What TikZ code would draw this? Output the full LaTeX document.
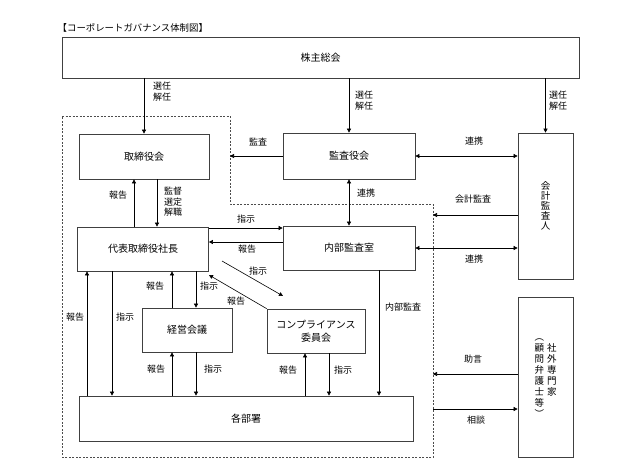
\documentclass[tikz,border=0pt]{standalone}
\usepackage{fontspec}
\setmainfont{Noto Sans CJK JP}
\usetikzlibrary{arrows.meta}

\begin{document}
\begin{tikzpicture}[x=1pt,y=-1pt,
  box/.style={draw=black!75,line width=0.7pt,font=\fontsize{10}{12}\selectfont,align=center,inner sep=0pt},
  lbl/.style={font=\fontsize{9}{11}\selectfont,align=center,inner sep=0pt},
  arr/.style={line width=0.6pt,-{Triangle[length=4pt,width=4pt]}},
  dbl/.style={line width=0.6pt,{Triangle[length=4pt,width=4pt]}-{Triangle[length=4pt,width=4pt]}}]
\useasboundingbox (0,0) rectangle (628,471);

% title
\node[lbl,anchor=west,font=\fontsize{9.4}{11}\selectfont] (title) at (57.5,28) {【コーポレートガバナンス体制図】};

% dashed border of the company
\draw[black!70,line width=0.6pt,dash pattern=on 2pt off 1.5pt]
  (62,116) -- (230,116) -- (230,204) -- (433,204) -- (433,457) -- (62,457) -- cycle;
\coordinate (bL) at (230,0);
\coordinate (bR) at (433,0);

% boxes
\node[box,minimum width=517pt,minimum height=41pt] (share) at (320.5,57.5) {株主総会};
\node[box,minimum width=130pt,minimum height=45pt] (torishimari) at (144,156.5) {取締役会};
\node[box,minimum width=132pt,minimum height=46pt] (kansayaku) at (349,156) {監査役会};
\node[box,minimum width=55pt,minimum height=146pt,font=\fontsize{9.5}{10}\selectfont] (kaikei) at (545.5,206) {会\\計\\監\\査\\人};
\node[box,minimum width=131pt,minimum height=44pt] (daihyo) at (143,249) {代表取締役社長};
\node[box,minimum width=132pt,minimum height=44pt] (naibu) at (349,248) {内部監査室};
\node[box,minimum width=90pt,minimum height=44pt] (keiei) at (187,330) {経営会議};
\node[box,minimum width=98pt,minimum height=44pt,font=\fontsize{10}{13}\selectfont] (comp) at (316,331) {コンプライアンス\\委員会};
\node[box,minimum width=334pt,minimum height=45pt] (kakubu) at (246,418.5) {各部署};
\node[box,minimum width=55pt,minimum height=160pt] (shagai) at (545.5,377) {};
\node[font=\fontsize{9.5}{10}\selectfont,inner sep=0pt] (shagaiTxt) at (545.5,377)
  {\begin{tabular}{@{}c@{\hspace{3pt}}c@{}}
   ︵ & \\ 顧 & 社\\ 問 & 外\\ 弁 & 専\\ 護 & 門\\ 士 & 家\\ 等 & \\ ︶ &
   \end{tabular}};

% from the general meeting
\draw[arr] (share.south -| torishimari.north) -- (torishimari.north);
\draw[arr] (share.south -| kansayaku.north) -- (kansayaku.north);
\draw[arr] (share.south -| kaikei.north) -- (kaikei.north);

% audit links
\coordinate (yKK) at (0,215);
\draw[arr] (kansayaku.west) -- (kansayaku.west -| bL);
\draw[dbl] (kansayaku.east) -- (kansayaku.east -| kaikei.west);
\draw[dbl] (kansayaku.south) -- (naibu.north);
\draw[arr] (kaikei.west |- yKK) -- (bR |- yKK);
\draw[dbl] (naibu.east) -- (naibu.east -| kaikei.west);

% board and president
\coordinate (xRep) at (134,0);
\coordinate (xSup) at (157,0);
\draw[arr] (daihyo.north -| xRep) -- (torishimari.south -| xRep);
\draw[arr] (torishimari.south -| xSup) -- (daihyo.north -| xSup);

% president and internal audit
\coordinate (yOrd) at (0,228);
\coordinate (yRpt) at (0,242);
\draw[arr] (daihyo.east |- yOrd) -- (naibu.west |- yOrd);
\draw[arr] (naibu.west |- yRpt) -- (daihyo.east |- yRpt);

% compliance diagonals
\coordinate (dgA) at (222,261);
\coordinate (dgB) at (283,296);
\coordinate (dgC) at (209,275);
\draw[arr] (dgA) -- (dgB);
\draw[arr] (comp.north west) -- (dgC);

% report up / order down
\foreach \top/\bot/\xu/\xd in {daihyo/kakubu/87/112, daihyo/keiei/172/196, keiei/kakubu/172/196, comp/kakubu/305/329}
{
  \coordinate (u) at (\xu,0);
  \coordinate (d) at (\xd,0);
  \draw[arr] (\bot.north -| u) -- (\top.south -| u);
  \draw[arr] (\top.south -| d) -- (\bot.north -| d);
}
\coordinate (xAud) at (379,0);
\draw[arr] (naibu.south -| xAud) -- (kakubu.north -| xAud);

% outside experts
\coordinate (yAdv) at (0,374);
\coordinate (yCon) at (0,409);
\draw[arr] (shagai.west |- yAdv) -- (bR |- yAdv);
\draw[arr] (bR |- yCon) -- (shagai.west |- yCon);

% labels
\node[lbl] (elect1) at (162,92) {選任\\解任};
\node[lbl] (elect2) at (364,101) {選任\\解任};
\node[lbl] (elect3) at (558,101) {選任\\解任};
\node[lbl,font=\fontsize{9}{10.5}\selectfont] (superv) at (173,202) {監督\\選定\\解職};
\foreach \x/\y/\t [count=\i] in {118/195/報告, 246/219/指示, 247/249/報告, 258/271/指示, 236/301/報告,
  155/286/報告, 209/286/指示, 75/317/報告, 125/317/指示, 156/369/報告, 213/369/指示, 288/370/報告,
  343/370/指示, 403/307/内部監査, 258/142/監査, 474/141/連携, 366/193/連携, 473/199/会計監査,
  474/259/連携, 473/359/助言, 476/420/相談}
  \node[lbl] (lab\i) at (\x,\y) {\t};
\end{tikzpicture}
\end{document}
